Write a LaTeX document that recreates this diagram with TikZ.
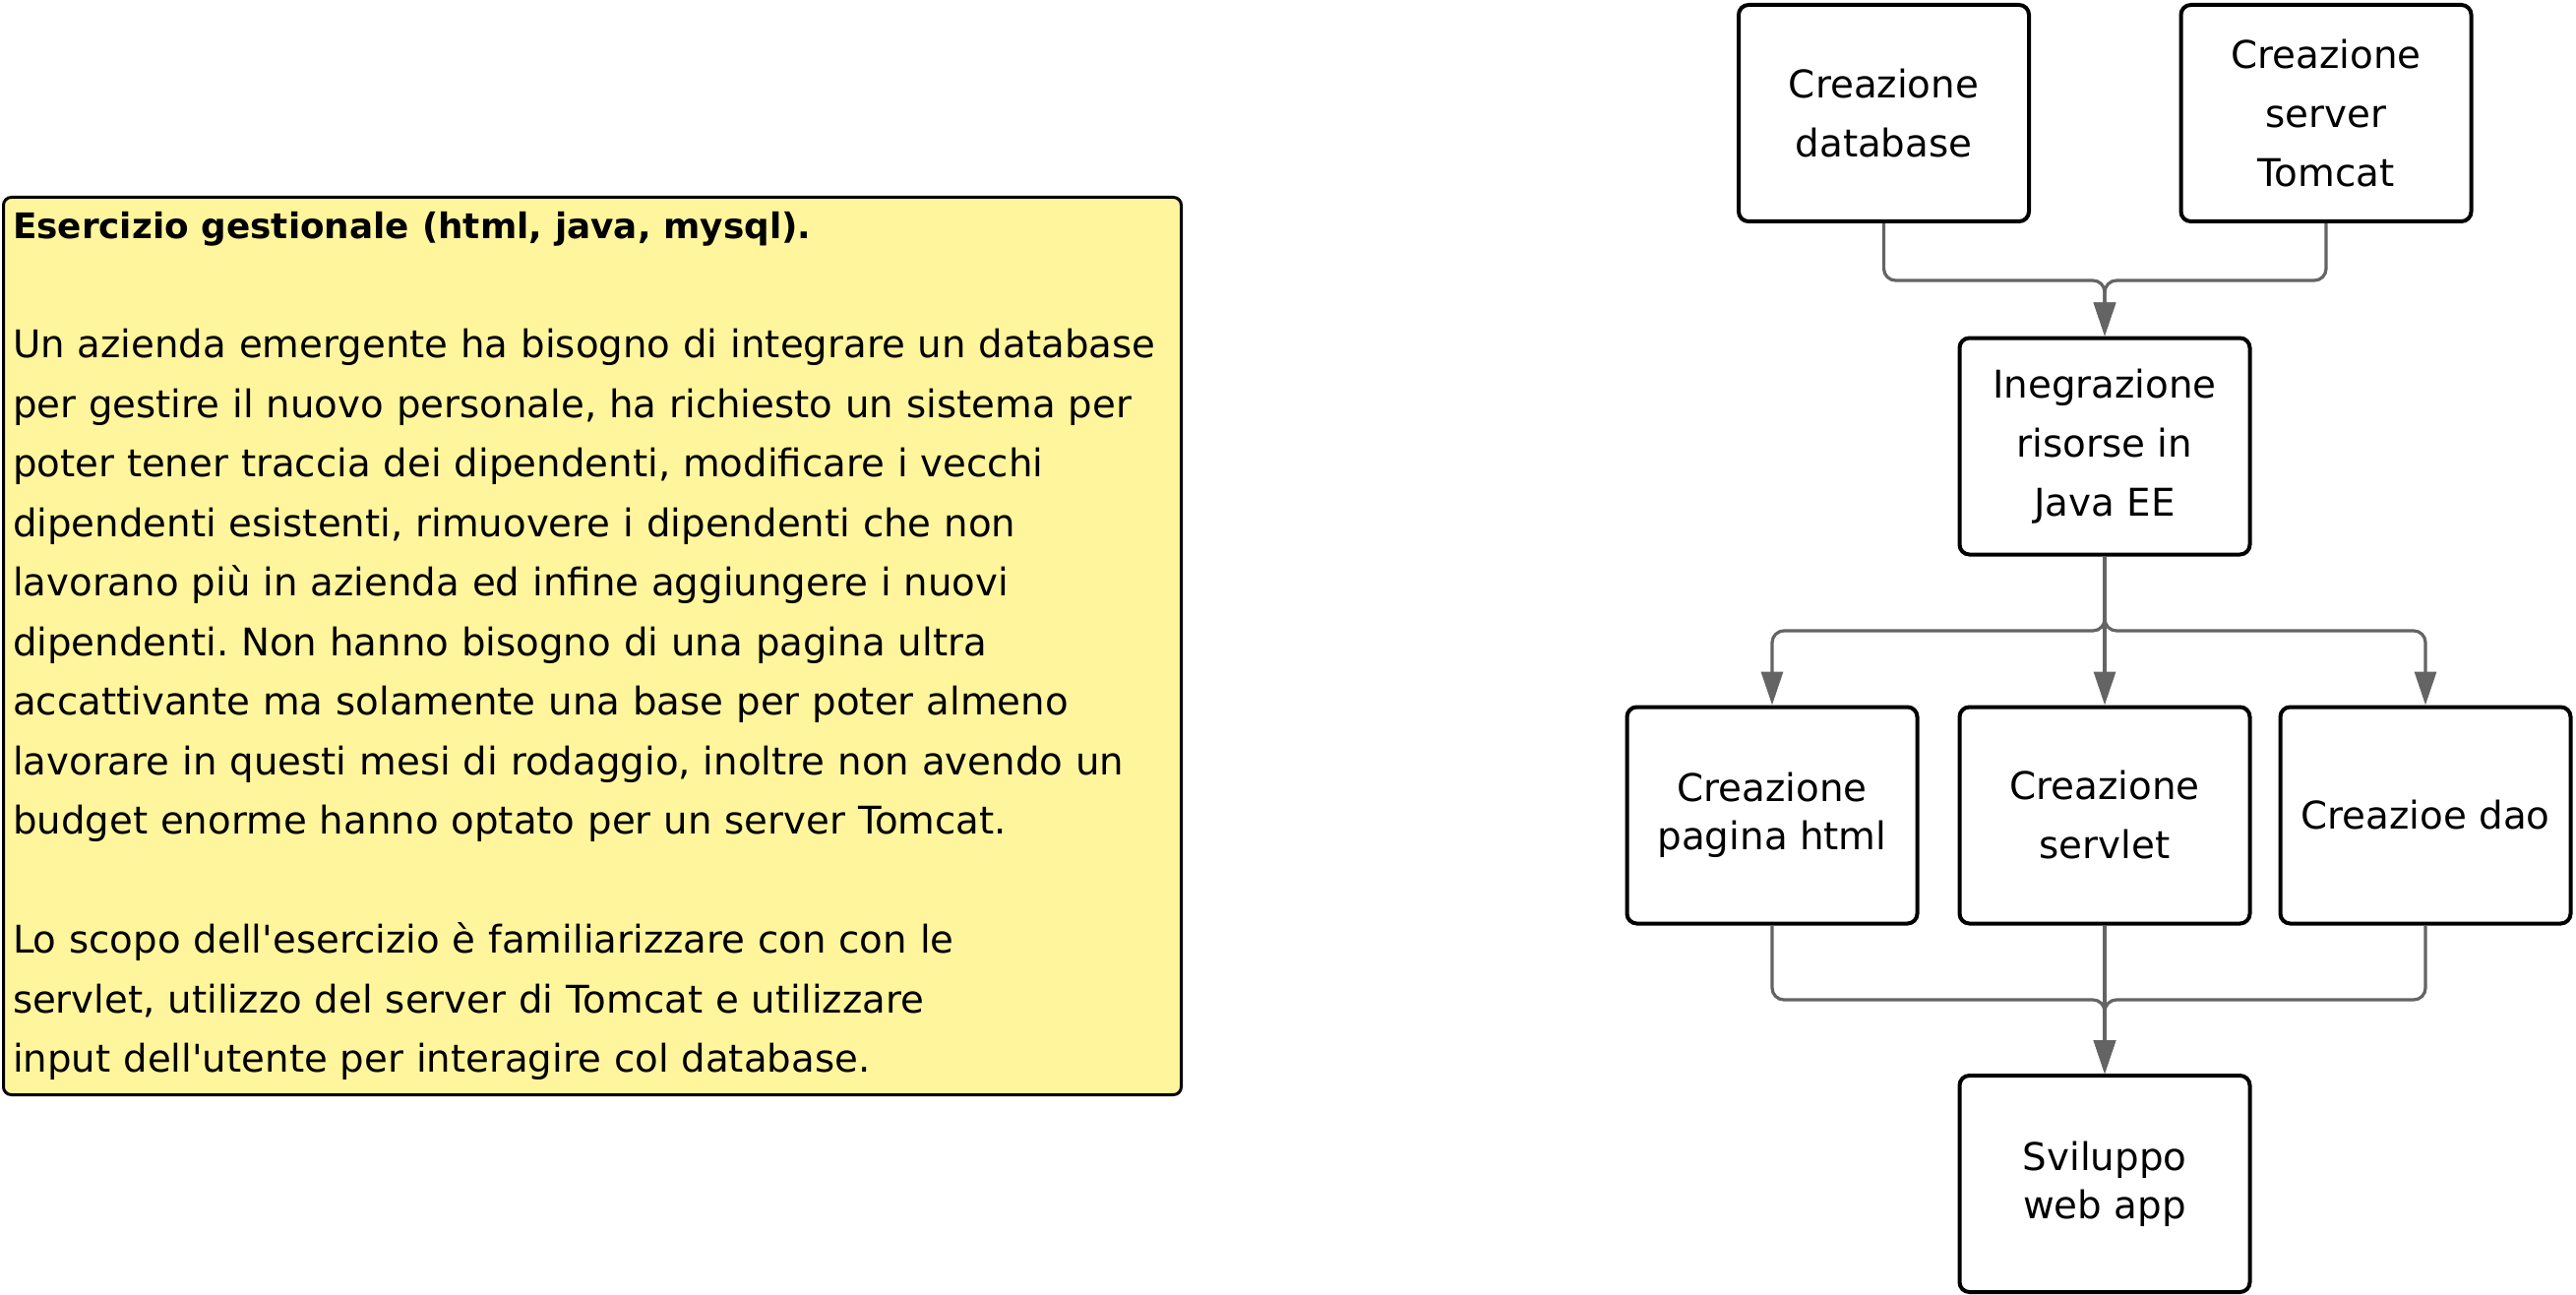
\documentclass[tikz,border=0pt]{standalone}
\usepackage{fontspec}
\newfontfamily\diagfont{DejaVu Sans}
\usetikzlibrary{arrows.meta}
\usetikzlibrary{positioning}
\definecolor{notefill}{RGB}{255,245,157}
\definecolor{linkgray}{RGB}{100,100,100}
\frenchspacing

\begin{document}
\begin{tikzpicture}[x=0.5pt,y=-0.5pt,
  taskbox/.style={draw,line width=2pt,rounded corners=5pt,fill=white,inner sep=0pt,
    minimum width=147.5pt,minimum height=110pt,align=center,
    font=\diagfont\fontsize{19.4}{30}\selectfont},
  tight/.style={font=\diagfont\fontsize{19.4}{24.5}\selectfont},
  link/.style={draw=linkgray,line width=1.6pt,rounded corners=6pt,
    -{Triangle[length=17pt,width=11pt,fill=linkgray]}}]
  \useasboundingbox (0,0) rectangle (2618,1316);
  % testo dell'esercizio
  \node [draw,line width=1.5pt,rounded corners=4pt,fill=notefill,
    minimum width=598.5pt,minimum height=456pt,inner xsep=4.75pt,inner ysep=0pt,
    text width=589pt,align=left,font=\diagfont\fontsize{19.35}{30.25}\selectfont]
    (task) at (602,656.5) {{\bfseries\fontsize{17.9}{30.25}\selectfont Esercizio gestionale (html, java, mysql).}\\[30.25pt]
    Un azienda emergente ha bisogno di integrare un database\\
    per gestire il nuovo personale, ha richiesto un sistema per\\
    poter tener traccia dei dipendenti, modificare i vecchi\\
    dipendenti esistenti, rimuovere i dipendenti che non\\
    lavorano più in azienda ed infine aggiungere i nuovi\\
    dipendenti. Non hanno bisogno di una pagina ultra\\
    accattivante ma solamente una base per poter almeno\\
    lavorare in questi mesi di rodaggio, inoltre non avendo un\\
    budget enorme hanno optato per un server Tomcat.\\[30.25pt]
    Lo scopo dell'esercizio è familiarizzare con con le\\
    servlet, utilizzo del server di Tomcat e utilizzare\\
    input dell'utente per interagire col database.};
  % schema
  \node [taskbox] (db) at (1914.5,115) {Creazione\\database};
  \node [taskbox] (tomcat) at (2364,115) {Creazione\\server\\Tomcat};
  \node [taskbox] (java) at (2139,453.5) {Inegrazione\\risorse in\\Java EE};
  \node [taskbox,tight] (html) at (1801,828.5) {Creazione\\pagina html};
  \node [taskbox] (servlet) at (2139,828.5) {Creazione\\servlet};
  \node [taskbox] (dao) at (2465,828.5) {Creazioe dao};
  \node [taskbox,tight] (app) at (2139,1203) {Sviluppo\\web app};
  \coordinate (j1) at (2139,285);
  \coordinate (j2) at (2139,641);
  \coordinate (j3) at (2139,1016);
  \draw[link] (db.south) |- (j1) -- (java.north);
  \draw[link] (tomcat.south) |- (j1) -- (java.north);
  \draw[link] (java.south) -- (j2) -| (html.north);
  \draw[link] (java.south) -- (servlet.north);
  \draw[link] (java.south) -- (j2) -| (dao.north);
  \draw[link] (html.south) |- (j3) -- (app.north);
  \draw[link] (servlet.south) -- (app.north);
  \draw[link] (dao.south) |- (j3) -- (app.north);
\end{tikzpicture}
\end{document}
